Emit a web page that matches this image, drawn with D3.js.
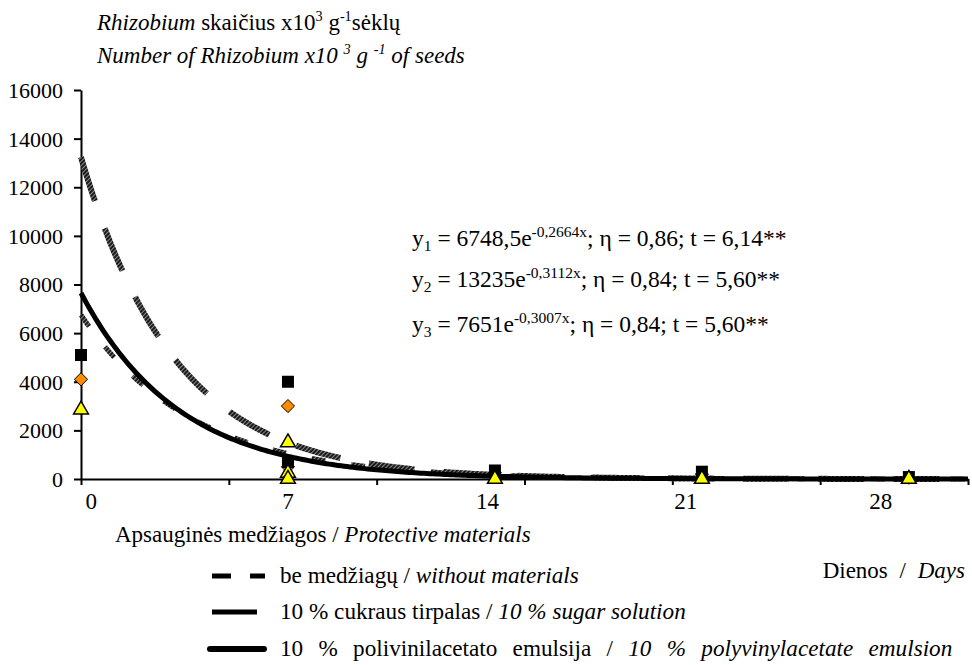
<!DOCTYPE html>
<html>
<head>
<meta charset="utf-8">
<script src="https://cdn.jsdelivr.net/npm/d3@7"></script>
<style>
  body { margin: 0; background: #fff; }
</style>
</head>
<body>
<svg id="chart" width="972" height="665" style="font-family: 'Liberation Serif', 'DejaVu Serif', serif;"></svg>
<script>
// measured points (days, Rhizobium x10^3 per g of seeds)
var squareDays = [0, 7, 7, 14, 21, 28];
var squareVals = [5100, 4000, 700, 350, 300, 80];
var diamondDays = [0, 7, 7, 14, 21, 28];
var diamondVals = [4100, 3000, 500, 250, 200, 50];
var triangleDays = [0, 7, 7, 7, 14, 21, 28];
var triangleVals = [2850, 1500, 250, 0, 0, 0, 0];

// trend lines y = a * e^(b x), as printed on the chart
var fitA = [6748.5, 13235, 7651];
var fitB = [-0.2664, -0.3112, -0.3007];

var yTicks = [0, 2000, 4000, 6000, 8000, 10000, 12000, 14000, 16000];
var xTicks = [0, 5, 10, 15, 20, 25, 30];
var xLabels = ["0", "7", "14", "21", "28"];
var xLabelPos = [0.35, 7, 13.75, 20.45, 27.05];

var FONT = "'Liberation Serif', 'DejaVu Serif', serif";
var svg = d3.select("#chart");
var x = d3.scaleLinear().domain([0, 30]).range([81, 968]);
var y = d3.scaleLinear().domain([0, 16000]).range([479, 90]);

// hatch pattern for the dashed trend lines
var defs = svg.append("defs");
var pat = defs.append("pattern").attr("id", "hatch")
  .attr("patternUnits", "userSpaceOnUse").attr("width", 3).attr("height", 3)
  .attr("patternTransform", "rotate(45)");
pat.append("rect").attr("width", 3).attr("height", 3).attr("fill", "#1a1a1a");
pat.append("rect").attr("width", 1).attr("height", 3).attr("fill", "#8a8a8a");

// axes
var yAxis = d3.axisLeft(y).tickValues(yTicks).tickSize(7).tickPadding(11)
  .tickSizeOuter(0).tickFormat(d3.format("d"));
var gy = svg.append("g").attr("transform", "translate(" + x(0) + ",0)").call(yAxis);
gy.attr("font-family", null).attr("font-size", null);
gy.selectAll("text").style("font-family", FONT).style("font-size", "22px").attr("dy", "0.34em");
gy.selectAll("line, path").attr("stroke", "#000").attr("stroke-width", 2);

var xAxis = d3.axisBottom(x).tickValues(xTicks).tickSize(6).tickFormat("").tickSizeOuter(0);
var gx = svg.append("g").attr("transform", "translate(0," + y(0) + ")").call(xAxis);
gx.selectAll("line, path").attr("stroke", "#000").attr("stroke-width", 2);

svg.append("g").selectAll("text").data(xLabels).enter().append("text")
  .attr("x", function (d, i) { return x(xLabelPos[i]); })
  .attr("y", 509)
  .attr("text-anchor", "middle")
  .style("font-family", FONT)
  .style("font-size", "23px")
  .text(function (d) { return d; });

// trend lines
var xs = d3.range(0, 30.01, 0.1);
var line = d3.line().x(function (d) { return x(d[0]); }).y(function (d) { return y(d[1]); });
function curve(i) {
  return xs.map(function (t) { return [t, fitA[i] * Math.exp(fitB[i] * t)]; });
}
svg.append("path").attr("d", line(curve(1))).attr("fill", "none")
  .attr("stroke", "url(#hatch)").attr("stroke-width", 6).attr("stroke-dasharray", "46,29");
svg.append("path").attr("d", line(curve(0))).attr("fill", "none")
  .attr("stroke", "url(#hatch)").attr("stroke-width", 5).attr("stroke-dasharray", "14,26");
svg.append("path").attr("d", line(curve(2))).attr("fill", "none")
  .attr("stroke", "#000").attr("stroke-width", 5);

// markers
var diamond = d3.symbol().type(d3.symbolDiamond2).size(110);
svg.append("g").selectAll("path").data(diamondDays).enter().append("path")
  .attr("d", diamond)
  .attr("transform", function (d, i) { return "translate(" + x(d) + "," + y(diamondVals[i]) + ")"; })
  .attr("fill", "#ff8c00").attr("stroke", "#000").attr("stroke-width", 1);

svg.append("g").selectAll("rect").data(squareDays).enter().append("rect")
  .attr("x", function (d) { return x(d) - 6; })
  .attr("y", function (d, i) { return y(squareVals[i]) - 6; })
  .attr("width", 12).attr("height", 12)
  .attr("fill", "#000");

var tri = d3.symbol().type(d3.symbolTriangle).size(95);
svg.append("g").selectAll("path").data(triangleDays).enter().append("path")
  .attr("d", tri)
  .attr("transform", function (d, i) { return "translate(" + x(d) + "," + y(triangleVals[i]) + ")"; })
  .attr("fill", "#ffff00").attr("stroke", "#000").attr("stroke-width", 1.5);

// rich text: parts = [text, style], style among "", "i", "sup", "isup", "sub"
function rich(px, py, size, parts, supScale) {
  supScale = supScale || 0.62;
  var t = svg.append("text").attr("x", px).attr("y", py)
    .style("font-family", FONT).style("font-size", size + "px");
  var shift = 0;
  parts.forEach(function (p) {
    var s = t.append("tspan").text(p[0]);
    var st = p[1] || "";
    var target = 0;
    if (st.indexOf("sup") >= 0) { target = -size * 0.38; s.style("font-size", (size * supScale) + "px"); }
    if (st.indexOf("sub") >= 0) { target = size * 0.2; s.style("font-size", (size * supScale) + "px"); }
    if (st.indexOf("i") === 0) s.style("font-style", "italic");
    s.attr("dy", target - shift);
    shift = target;
  });
  return t;
}

// axis title
rich(97, 30, 23, [["Rhizobium", "i"], ["  skaičius x10"], ["3", "sup"], [" g"], ["-1", "sup"], ["sėklų"]]);
rich(97, 63, 23, [["Number of Rhizobium x10 ", "i"], ["3", "isup"], ["  g ", "i"], ["-1", "isup"], [" of seeds", "i"]]);

// equations
rich(412, 246, 23.5, [["y"], ["1", "sub"], [" = 6748,5e"], ["-0,2664x", "sup"], ["; η = 0,86; t = 6,14**"]], 0.66);
rich(412, 287, 23.5, [["y"], ["2", "sub"], [" = 13235e"], ["-0,3112x", "sup"], ["; η = 0,84;  t = 5,60**"]], 0.66);
rich(412, 332, 23.5, [["y"], ["3", "sub"], [" = 7651e"], ["-0,3007x", "sup"], ["; η = 0,84;  t = 5,60**"]], 0.66);

// x titles
rich(115, 542, 23, [["Apsauginės medžiagos / "], ["Protective materials", "i"]]);
rich(965, 578, 23, [["Dienos / "], ["Days", "i"]])
  .attr("text-anchor", "end").style("word-spacing", "6px");

// legend
var legTexts = [
  [["be medžiagų / "], ["without materials", "i"]],
  [["10 % cukraus tirpalas / "], ["10 % sugar solution", "i"]],
  [["10 % polivinilacetato emulsija / "], ["10 % polyvinylacetate emulsion", "i"]]
];
var legSpacing = [0, 0, 9.5];
var legY = [576, 612, 649];
legTexts.forEach(function (parts, i) {
  rich(280, legY[i] + 7, 23.2, parts).style("word-spacing", legSpacing[i] + "px");
});
svg.append("line").attr("x1", 212).attr("x2", 231).attr("y1", legY[0]).attr("y2", legY[0])
  .attr("stroke", "#000").attr("stroke-width", 5);
svg.append("line").attr("x1", 250).attr("x2", 265).attr("y1", legY[0]).attr("y2", legY[0])
  .attr("stroke", "#000").attr("stroke-width", 5);
svg.append("line").attr("x1", 212).attr("x2", 257).attr("y1", legY[1]).attr("y2", legY[1])
  .attr("stroke", "#000").attr("stroke-width", 5);
svg.append("line").attr("x1", 210).attr("x2", 264).attr("y1", legY[2]).attr("y2", legY[2])
  .attr("stroke", "#000").attr("stroke-width", 6).attr("stroke-linecap", "round");
</script>
</body>
</html>
